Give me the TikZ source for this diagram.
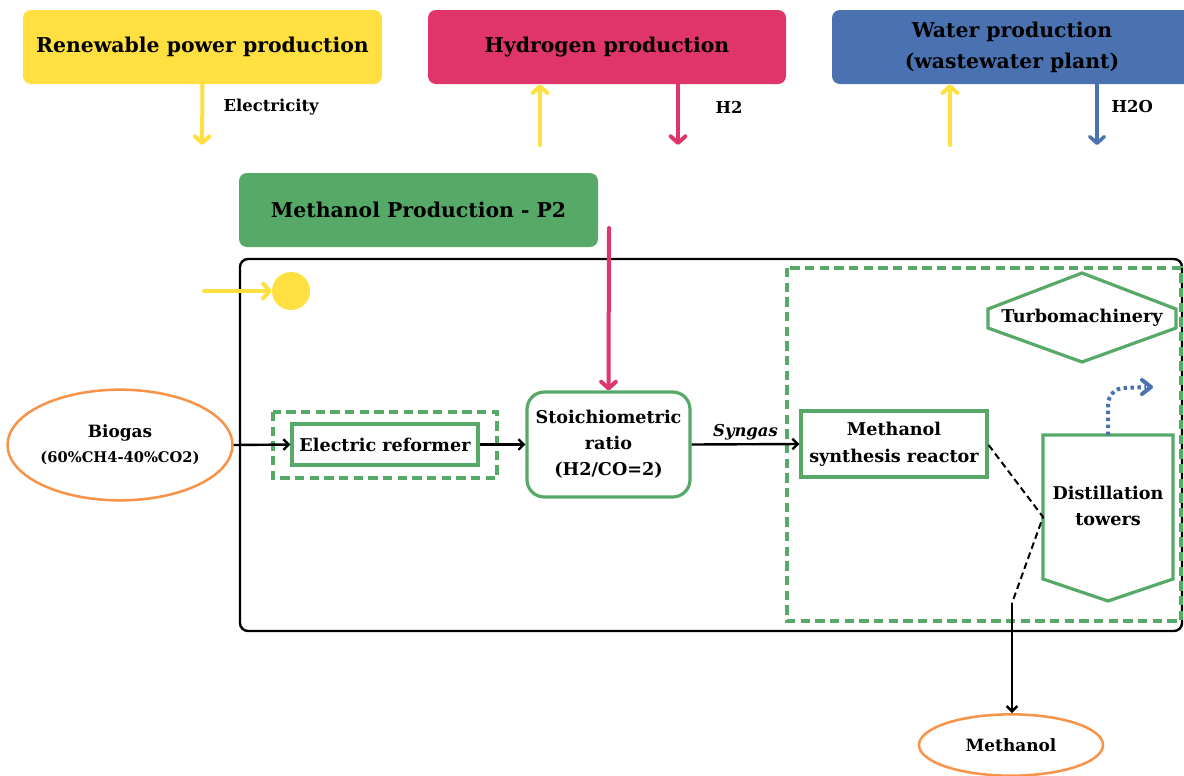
\documentclass[tikz,border=0pt]{standalone}
\usepackage{fontspec}
\setmainfont{DejaVu Serif}
\usetikzlibrary{arrows.meta,shapes.geometric}
\definecolor{sunyellow}{HTML}{FFE040}
\definecolor{hydropink}{HTML}{E0356A}
\definecolor{waterblue}{HTML}{4A72B0}
\definecolor{procgreen}{HTML}{57A968}
\definecolor{feedorange}{HTML}{F7944A}
\tikzset{
  topbox/.style={rectangle, rounded corners=6pt, inner sep=0pt, align=center,
    font=\bfseries\fontsize{15.3}{23.25}\selectfont},
  unitbox/.style={rectangle, draw=procgreen, line width=2.4pt, inner sep=0pt, align=center,
    font=\bfseries\fontsize{13.2}{19.5}\selectfont},
  unittext/.style={align=center, font=\bfseries\fontsize{13.2}{19.5}\selectfont},
  feed/.style={ellipse, draw=feedorange, line width=1.9pt, inner sep=0pt, align=center,
    font=\bfseries\fontsize{12.7}{18}\selectfont},
  flowlabel/.style={font=\bfseries\fontsize{12.3}{14}\selectfont, anchor=west},
  thickflow/.style={line width=3pt, line cap=round, -{Straight Barb[length=5pt,width=11pt,round]}},
  thinflow/.style={line width=1.8pt, -{Straight Barb[length=4pt,width=8pt]}},
  groupbox/.style={draw=procgreen, dash pattern=on 7pt off 4pt, line width=3pt}
}
\begin{document}
\begin{tikzpicture}[x=0.75pt,y=-0.75pt]
\clip (0,0) rectangle (1184,775);
\fill[white] (0,0) rectangle (1184,775);

% ---- top level suppliers ----
\node[topbox, fill=sunyellow, minimum width=269.25pt, minimum height=55.5pt] (renew) at (202.5,47) {Renewable power production};
\node[topbox, fill=hydropink, minimum width=268.5pt, minimum height=55.5pt] (hydro) at (607,47) {Hydrogen production};
\node[topbox, fill=waterblue, minimum width=270pt, minimum height=55.5pt] (water) at (1012,47) {Water production\\(wastewater plant)};

% ---- plant header ----
\node[topbox, fill=procgreen, minimum width=269.25pt, minimum height=55.5pt] (plant) at (418.5,210) {Methanol Production - P2};

% ---- plant boundary and equipment groups ----
\draw[black, line width=1.8pt, rounded corners=6pt] (240,259) rectangle (1182,631);
\draw[groupbox] (787,268) rectangle (1181,621);

% ---- flows between suppliers and plant ----
\coordinate (elecend) at (202,145);
\coordinate (hyin) at (540,145);
\coordinate (h2end) at (678,145);
\coordinate (wtin) at (950,145);
\coordinate (wtend) at (1097,145);
\draw[thickflow, draw=sunyellow] (renew.south) -- (elecend);
\node[flowlabel] at (219,107) {Electricity};
\draw[thickflow, draw=sunyellow] (hyin) -- (hyin |- hydro.south);
\draw[thickflow, draw=hydropink] (h2end |- hydro.south) -- (h2end);
\node[flowlabel] at (711,107) {H2};
\draw[line width=2.6pt, line cap=round, -{Straight Barb[length=5pt,width=11pt,round]}, draw=waterblue] (wtend |- water.south) -- (wtend);
\draw[thickflow, draw=sunyellow] (wtin) -- (wtin |- water.south);
\node[flowlabel] at (1107,107) {H2O};

% ---- electricity supply point ----
\node[circle, fill=sunyellow, minimum size=28.5pt, inner sep=0pt] (elec) at (291,291) {};
\coordinate (elecin) at (204,291);
\draw[thickflow, draw=sunyellow] (elecin) -- (elec.west);

% ---- process chain ----
\node[feed, minimum width=162pt, minimum height=83pt] (biogas) at (120,445) {Biogas\\[1pt]{\fontsize{11}{12}\selectfont (60\%CH4-40\%CO2)}};
\draw[groupbox] (273,412) rectangle (497,478);
\node[unitbox, minimum width=139.5pt, minimum height=30.75pt] (reformer) at (385,444.5) {Electric reformer};
\node[unitbox, rounded corners=13pt, minimum width=122.25pt, minimum height=78.75pt] (stoich) at (608.5,444.5) {Stoichiometric\\ratio\\(H2/CO=2)};
\node[unitbox, minimum width=139.5pt, minimum height=49.5pt, font=\bfseries\fontsize{13.2}{20.25}\selectfont] (reactor) at (894,444) {Methanol\\synthesis reactor};

\coordinate (h2in) at (609,228);
\draw[thickflow, draw=hydropink] (h2in) -- (stoich.north);

\draw[thinflow] (biogas.east) -- (reformer.west);
\draw[thinflow] (reformer.east) -- (stoich.west);
\draw[thinflow] (stoich.east) -- node[above=-1pt, font=\bfseries\itshape\fontsize{12.3}{14}\selectfont] {Syngas} (reactor.west);

% ---- turbomachinery ----
\draw[procgreen, line width=2.4pt, line join=miter] (1082,273) -- (1176,309) -- (1176,328) -- (1082,362) -- (988,328) -- (988,309) -- cycle;
\node[unittext] (turbo) at (1082,318) {Turbomachinery};

% ---- distillation towers ----
\draw[procgreen, line width=2.4pt] (1043,435) -- (1173,435) -- (1173,579) -- (1108,601) -- (1043,579) -- cycle;
\node[unittext] (dist) at (1108,506) {Distillation\\towers};
\coordinate (disttop) at (1108,435);
\coordinate (distin) at (1043,517);
\coordinate (distout) at (1012,603);
\draw[waterblue, line width=3pt, dash pattern=on 2.6pt off 2.6pt] (disttop) -- (1108,405) to[out=90,in=180] (1124,388) -- (1146,387);
\draw[waterblue, line width=3pt, line cap=round, line join=round] (1142,380) -- (1151,387) -- (1142,394);

% ---- product line ----
\node[feed, minimum width=138pt, minimum height=46pt] (methanol) at (1011,745) {Methanol};
\draw[black, line width=1.5pt, dash pattern=on 5pt off 3pt] (reactor.east |- 0,445) -- (distin) -- (distout);
\draw[thinflow] (distout) -- (distout |- methanol.north);
\end{tikzpicture}
\end{document}
